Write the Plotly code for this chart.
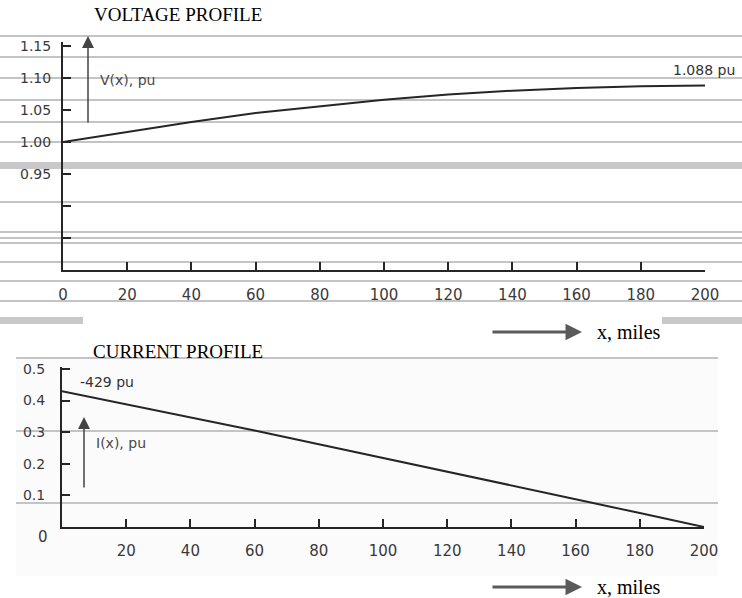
import plotly.graph_objects as go

W, H = 742, 598

# distance along the line, miles
x_miles = [0, 20, 40, 60, 80, 100, 120, 140, 160, 180, 200]
# receiving-end rise of the voltage along the unloaded line
voltage_pu = [1.000, 1.016, 1.031, 1.045, 1.056, 1.066, 1.074, 1.080, 1.084, 1.087, 1.088]
# charging current, largest at the sending end
current_pu = [0.429, 0.388, 0.347, 0.305, 0.262, 0.219, 0.176, 0.132, 0.088, 0.044, 0.000]

x_ticks = [0, 20, 40, 60, 80, 100, 120, 140, 160, 180, 200]
v_ticks = [0.85, 0.90, 0.95, 1.00, 1.05, 1.10, 1.15]
v_tick_text = ["", "", "0.95", "1.00", "1.05", "1.10", "1.15"]
i_ticks = [0.1, 0.2, 0.3, 0.4, 0.5]
i_tick_text = ["0.1", "0.2", "0.3", "0.4", "0.5"]


def px(x):
    return x / W


def py(y):
    return 1 - y / H


INK = "#262626"
RULE = "#c4c4c4"
Y_LABEL_FONT = dict(family="DejaVu Sans", size=14, color="#3a3a3a")
X_LABEL_FONT = dict(family="DejaVu Sans", size=15, color="#3a3a3a")

fig = go.Figure()
fig.add_trace(go.Scatter(x=x_miles, y=voltage_pu, mode="lines",
                         line=dict(color=INK, width=2), xaxis="x", yaxis="y",
                         hoverinfo="skip"))
fig.add_trace(go.Scatter(x=x_miles, y=current_pu, mode="lines",
                         line=dict(color=INK, width=2), xaxis="x2", yaxis="y2",
                         hoverinfo="skip"))

axis_common = dict(showline=True, linecolor=INK, linewidth=2, showgrid=False,
                   zeroline=False, ticks="inside", ticklen=8, tickwidth=2,
                   tickcolor=INK, fixedrange=True, automargin=False)

fig.update_layout(
    template="none",
    width=W, height=H,
    margin=dict(l=0, r=0, t=0, b=0, pad=0),
    paper_bgcolor="white",
    plot_bgcolor="rgba(0,0,0,0)",
    showlegend=False,
    xaxis=dict(domain=[px(63), px(705)], range=[0, 200], anchor="y",
               tickmode="array", tickvals=x_ticks,
               ticktext=[str(v) for v in x_ticks], ticklabelstandoff=10,
               tickfont=X_LABEL_FONT, **axis_common),
    yaxis=dict(domain=[py(270), py(42)], range=[0.80, 1.156], anchor="x",
               tickmode="array", tickvals=v_ticks, ticktext=v_tick_text,
               ticklabelstandoff=7, tickfont=Y_LABEL_FONT, **axis_common),
    xaxis2=dict(domain=[px(62), px(704)], range=[0, 200], anchor="y2",
                tickmode="array", tickvals=x_ticks[1:],
                ticktext=[str(v) for v in x_ticks[1:]], ticklabelstandoff=9,
                tickfont=X_LABEL_FONT, **axis_common),
    yaxis2=dict(domain=[py(527), py(367)], range=[0, 0.506], anchor="x2",
                tickmode="array", tickvals=i_ticks, ticktext=i_tick_text,
                ticklabelstandoff=12, tickfont=Y_LABEL_FONT, **axis_common),
)

shapes = []
# faint page tone behind the lower panel
shapes.append(dict(type="rect", xref="paper", yref="paper", layer="below",
                   x0=px(16), x1=px(718), y0=py(576), y1=py(358),
                   fillcolor="#fbfbfb", line=dict(width=0)))
# ruled lines across the page
for y in [36, 57, 78, 100, 122, 142, 202, 232, 238, 243, 262, 281, 301]:
    shapes.append(dict(type="line", xref="paper", yref="paper", layer="below",
                       x0=0, x1=1, y0=py(y), y1=py(y),
                       line=dict(color=RULE, width=2)))
for y in [358, 431, 503]:
    shapes.append(dict(type="line", xref="paper", yref="paper", layer="below",
                       x0=px(16), x1=px(718), y0=py(y), y1=py(y),
                       line=dict(color=RULE, width=2)))
# heavy bands
shapes.append(dict(type="rect", xref="paper", yref="paper", layer="below",
                   x0=0, x1=1, y0=py(169), y1=py(162),
                   fillcolor="#c8c8c8", line=dict(width=0)))
for x0, x1 in [(0, 83), (662, 742)]:
    shapes.append(dict(type="rect", xref="paper", yref="paper", layer="below",
                       x0=px(x0), x1=px(x1), y0=py(324), y1=py(317),
                       fillcolor="#c8c8c8", line=dict(width=0)))
fig.update_layout(shapes=shapes)

ann = []


def text(s, x, y, font, xanchor="left"):
    ann.append(dict(text=s, x=px(x), y=py(y), xref="paper", yref="paper",
                    xanchor=xanchor, yanchor="middle", showarrow=False,
                    font=font))


def arrow(x_head, y_head, dx, dy, color, width, size):
    ann.append(dict(text="", x=px(x_head), y=py(y_head), xref="paper",
                    yref="paper", axref="pixel", ayref="pixel", ax=dx, ay=dy,
                    showarrow=True, arrowhead=2, arrowsize=size,
                    arrowwidth=width, arrowcolor=color))


title_font = dict(family="Liberation Serif", size=19, color="black")
axis_name_font = dict(family="Liberation Serif", size=20, color="black")
note_font = dict(family="DejaVu Sans", size=14, color="#4a4a4a")

text("VOLTAGE PROFILE", 178, 15, title_font, "center")
text("CURRENT PROFILE", 178, 351, title_font, "center")

text("V(x), pu", 98, 80, note_font)
arrow(88, 36, 0, 88, "#444444", 1.5, 1.6)
text("1.088 pu", 671, 70, dict(family="DejaVu Sans", size=14, color="#333333"))

text("-429 pu", 78, 382, dict(family="DejaVu Sans", size=14, color="#333333"))
text("I(x), pu", 94, 443, note_font)
arrow(84, 417, 0, 72, "#444444", 1.5, 1.6)
text("0", 43, 537, X_LABEL_FONT, "center")

for y in [332, 587]:
    arrow(582, y, -91, 0, "#5a5a5a", 3, 1.1)
    text("x, miles", 595, y, axis_name_font)

fig.update_layout(annotations=ann)

fig.write_html("out.html")
